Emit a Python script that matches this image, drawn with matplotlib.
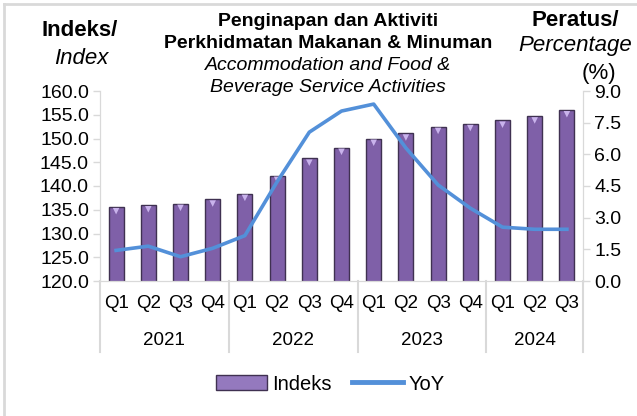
import matplotlib
matplotlib.use("Agg")
import matplotlib.pyplot as plt
from matplotlib.lines import Line2D
from matplotlib.patches import Rectangle
import numpy as np

plt.rcParams['font.family'] = ['Liberation Sans', 'DejaVu Sans']

quarters = ["Q1", "Q2", "Q3", "Q4", "Q1", "Q2", "Q3", "Q4", "Q1", "Q2", "Q3", "Q4", "Q1", "Q2", "Q3"]
years = ["2021", "2022", "2023", "2024"]
quarters_per_year = [4, 4, 4, 3]
index_values = [135.6, 136.0, 136.3, 137.2, 138.4, 142.2, 145.8, 148.1, 150.0, 151.1, 152.5, 153.1, 153.8, 154.7, 156.0]
yoy_values = [1.45, 1.65, 1.15, 1.55, 2.15, 4.7, 7.05, 8.05, 8.38, 6.3, 4.55, 3.45, 2.55, 2.45, 2.45]

W, H = 637, 416
fig = plt.figure(figsize=(W / 100, H / 100), dpi=100)
left, right, bottom, top = 100 / W, 583 / W, 1 - 281 / H, 1 - 91 / H
ax = fig.add_axes([left, bottom, right - left, top - bottom])
ax2 = ax.twinx()

x = np.arange(len(index_values))
bar_color = "#7F60A8"
edge_color = "#3F3151"
ax.bar(x, index_values, width=0.47, color=bar_color, edgecolor=edge_color,
       linewidth=1.0, zorder=2)
ax.scatter(x, np.array(index_values) - 0.9, marker="v", s=22, color="#C9B3EC",
           edgecolors="none", zorder=3)
ax.set_ylim(120, 160)
ax.set_xlim(-0.5, len(index_values) - 0.5)
ax.set_yticks(np.arange(120, 160.1, 5))
ax.set_yticklabels([f"{v:.1f}" for v in np.arange(120, 160.1, 5)])

line_color = "#5390D9"
ax2.plot(x, yoy_values, color=line_color, linewidth=2.6, solid_joinstyle="round",
         zorder=4)
ax2.set_ylim(0, 9)
ax2.set_yticks(np.arange(0, 9.01, 1.5))
ax2.set_yticklabels([f"{v:.1f}" for v in np.arange(0, 9.01, 1.5)])

grey = "#D9D9D9"
for a in (ax, ax2):
    for s in a.spines.values():
        s.set_color(grey)
    a.spines["top"].set_visible(False)
    a.tick_params(axis="y", colors=grey, labelcolor="black", labelsize=14,
                  length=5, width=1, pad=3)

ax.set_xticks(x)
ax.set_xticklabels(quarters, fontsize=13.5)
ax.tick_params(axis="x", length=0, pad=10)

# year labels and separators
start = 0
trans = ax.get_xaxis_transform()
bottom_sep = -(352 - 281) / (281 - 91)
year_y = -(340 - 281) / (281 - 91)
seps = [-0.5]
for yr, n in zip(years, quarters_per_year):
    center = start + (n - 1) / 2
    ax.text(center, year_y, yr, transform=trans, ha="center", va="center",
            fontsize=13.5)
    start += n
    seps.append(start - 0.5)
for s in seps:
    ax.add_line(Line2D([s, s], [0, bottom_sep], transform=trans, color=grey,
                       linewidth=1.5, clip_on=False))

# titles
def ft(px, py, s, **kw):
    fig.text(px / W, 1 - py / H, s, ha="center", va="center", **kw)

ft(80, 31, "Indeks/", fontsize=16, fontweight="bold")
ft(81, 58, "Index", fontsize=16, style="italic")
ft(328, 21, "Penginapan dan Aktiviti", fontsize=14, fontweight="bold")
ft(328, 43, "Perkhidmatan Makanan & Minuman", fontsize=14, fontweight="bold")
ft(328, 66, "Accommodation and Food &", fontsize=14, style="italic")
ft(328, 88, "Beverage Service Activities", fontsize=14, style="italic")
ft(575, 21, "Peratus/", fontsize=16, fontweight="bold")
ft(575, 46, "Percentage", fontsize=16, style="italic")
ft(599, 73, "(%)", fontsize=16)

# legend
handles = [Rectangle((0, 0), 1, 1, facecolor="#9479BE", edgecolor=edge_color, linewidth=1),
           Line2D([0], [0], color=line_color, linewidth=3.5)]
fig.legend(handles, ["Indeks", "YoY"], loc="center", bbox_to_anchor=(330 / W, 1 - 384 / H),
           ncol=2, frameon=False, fontsize=14.5, handlelength=2.55, handleheight=0.75,
           handletextpad=0.25, columnspacing=1.0)

# outer border
fig.add_artist(Line2D([4 / W, 4 / W], [0, 1 - 4 / H], transform=fig.transFigure,
                      color=grey, linewidth=2))
fig.add_artist(Line2D([4 / W, 1], [1 - 4 / H, 1 - 4 / H], transform=fig.transFigure,
                      color=grey, linewidth=2))

fig.savefig("out.png", dpi=100)
